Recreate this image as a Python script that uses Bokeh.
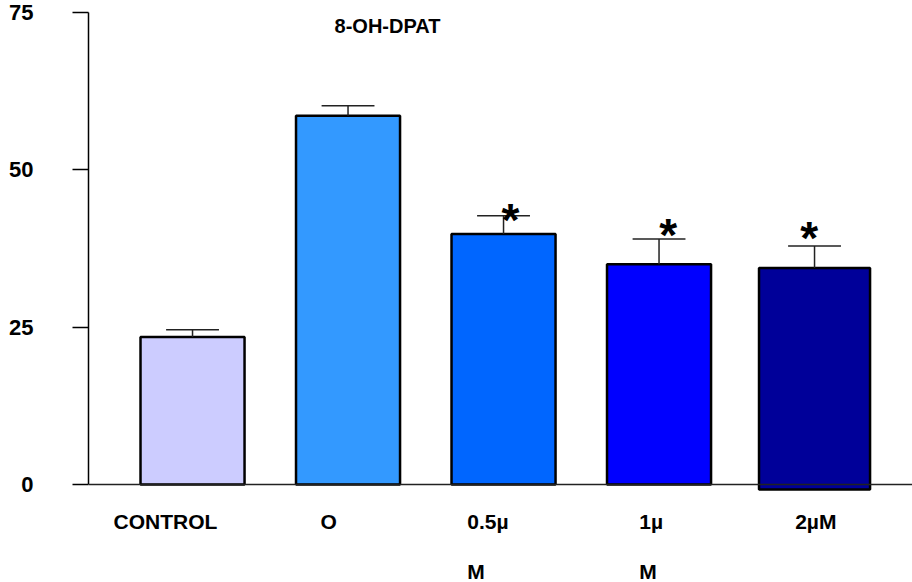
from bokeh.plotting import figure
from bokeh.models import Range1d, FixedTicker, ColumnDataSource, Span, Label
from bokeh.core.properties import value
from bokeh.embed import file_html
from bokeh.resources import INLINE

# ---- data ----
categories = ["CONTROL", "O", "0.5µM", "1µM", "2µM"]
label_line1 = ["CONTROL", "O", "0.5µ", "1µ", "2µM"]
label_line2 = ["", "", "M", "M", ""]
means = [23.45, 58.6, 39.8, 35.0, 34.4]
errors = [1.15, 1.6, 2.9, 4.0, 3.5]
significant = [False, False, True, True, True]
y_ticks = [0, 25, 50, 75]
title_text = "8-OH-DPAT"

# ---- styles / layout ----
bar_colors = ["#CCCCFF", "#3399FF", "#0066FF", "#0000FF", "#000099"]
bar_widths = [0.669, 0.669, 0.669, 0.669, 0.714]
bar_bottoms = [0, 0, 0, 0, -0.8]
label_dx = [-79, -27.6, -36.2, -19.8, -19.4]
star_dx = [6.8, 9.2, -5.4]
star_dy = [4.7, -3.6, -7.5]
cap_half = 0.17
FONT = "Liberation Sans"

xs = list(range(len(categories)))
tops = [m + e for m, e in zip(means, errors)]

p = figure(width=912, height=582, output_backend="svg", toolbar_location=None,
           x_range=Range1d(-0.669, 4.630), y_range=Range1d(-15.572, 76.907),
           min_border_left=88, min_border_right=0, min_border_top=0, min_border_bottom=0,
           x_axis_location=None, y_axis_location="left")
p.outline_line_color = None
p.grid.visible = False
p.background_fill_color = "white"
p.border_fill_color = "white"

# y axis
ya = p.yaxis[0]
ya.ticker = FixedTicker(ticks=y_ticks)
ya.bounds = (0, 75)
ya.major_tick_out = 16
ya.major_tick_in = 0
ya.minor_tick_line_color = None
ya.axis_line_width = 1.5
ya.major_tick_line_width = 1.5
ya.axis_line_color = "black"
ya.major_tick_line_color = "black"
ya.major_label_standoff = 39
ya.major_label_text_font = FONT
ya.major_label_text_font_style = "bold"
ya.major_label_text_font_size = "22px"
ya.major_label_text_color = "black"
ya.major_label_text_baseline = "top"

# x axis line at 0
p.add_layout(Span(location=0, dimension="width", line_color="#222222", line_width=1.5))

# bars
src = ColumnDataSource(dict(x=xs, top=means, bottom=bar_bottoms, w=bar_widths, color=bar_colors))
p.vbar(x="x", top="top", bottom="bottom", width="w", fill_color="color",
       line_color="black", line_width=2.5, source=src)

# error bars
p.segment(x0=xs, y0=means, x1=xs, y1=tops, line_color="#222222", line_width=1.5)
p.segment(x0=[x - cap_half for x in xs], y0=tops, x1=[x + cap_half for x in xs], y1=tops,
          line_color="#222222", line_width=1.5)

# significance stars
sx = [x for x, s in zip(xs, significant) if s]
sy = [t for t, s in zip(tops, significant) if s]
p.text(x=sx, y=sy, text=["*"] * len(sx), x_offset=star_dx, y_offset=star_dy,
       text_align="center", text_baseline="middle", text_font=value(FONT),
       text_font_style="bold", text_font_size="46px", text_color="black")

# category labels
p.text(x=xs, y=[-5.88] * len(xs), text=label_line1, x_offset=label_dx,
       text_align="left", text_baseline="middle", text_font=value(FONT),
       text_font_style="bold", text_font_size="21px", text_color="black")
l2x = [x for x, t in zip(xs, label_line2) if t]
l2dx = [d for d, t in zip(label_dx, label_line2) if t]
l2t = [t for t in label_line2 if t]
p.text(x=l2x, y=[-13.82] * len(l2x), text=l2t, x_offset=l2dx,
       text_align="left", text_baseline="middle", text_font=value(FONT),
       text_font_style="bold", text_font_size="21px", text_color="black")

# title
p.add_layout(Label(x=1.254, y=72.8, text=title_text, text_align="center", text_baseline="middle",
                   text_font=FONT, text_font_style="bold", text_font_size="20px", text_color="black"))

open("out.html", "w").write(file_html(p, INLINE))
